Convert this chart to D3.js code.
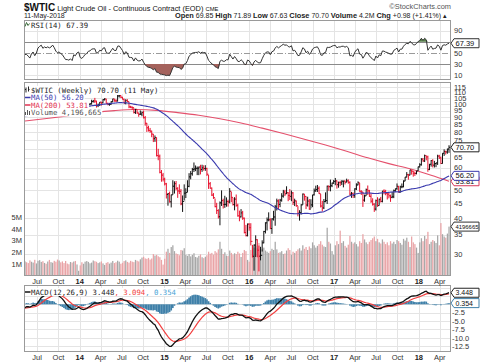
<!DOCTYPE html>
<html><head><meta charset="utf-8">
<script src="https://cdn.jsdelivr.net/npm/d3@7/dist/d3.min.js"></script>
<style>html,body{margin:0;padding:0;background:#fff;} svg{display:block;}</style>
</head><body>
<svg id="chart" width="480" height="363"></svg>
<script>
// ---------------- DATA (weekly, Fridays, from 10-May-2013 to 11-May-2018) ----------------
const firstWeek = "2013-05-10";
// 14 weekly closes before the first visible week (indicator warm-up only)
const priorClose = [97.77,95.72,95.86,93.13,90.68,91.95,93.45,93.71,97.23,92.70,91.29,88.01,93.00,95.61];
const close = [
// 2013
96.04,96.02,94.15,91.97,96.03,97.85,93.69,96.56,103.22,105.95,
108.05,104.70,106.94,106.03,107.46,106.42,107.65,110.53,108.21,104.67,
102.87,103.84,102.02,100.81,97.85,94.61,94.60,93.84,94.84,92.72,
97.65,96.60,99.32,100.32,
// 2014
93.96,92.72,94.37,96.64,97.49,99.88,100.30,102.20,102.59,102.58,
98.89,99.46,101.67,101.14,103.74,104.30,100.60,99.76,99.99,102.02,
104.35,102.71,102.66,106.91,107.26,105.74,104.06,100.83,103.13,102.09,
97.88,97.65,97.35,93.65,95.96,93.29,92.27,92.41,93.54,89.74,
85.82,82.75,81.01,80.54,78.65,75.82,76.51,66.15,65.84,57.81,
56.52,54.73,
// 2015
52.69,48.36,48.69,45.59,48.24,51.69,52.78,50.81,49.76,49.61,
44.84,45.72,48.87,49.14,51.64,55.74,57.15,59.15,59.39,59.69,
59.72,60.30,59.13,59.96,59.61,59.63,56.93,52.74,50.89,48.14,
47.12,43.87,42.50,40.45,45.22,46.05,44.63,44.68,45.70,45.54,
49.63,47.26,44.60,46.59,44.29,40.74,40.39,41.71,39.97,35.62,
34.73,38.10,37.04,
// 2016
33.16,29.42,32.19,33.62,30.89,29.44,29.64,32.78,35.92,38.50,
39.44,39.46,36.79,39.72,40.36,43.73,45.92,44.66,46.21,47.75,
49.33,48.62,49.07,47.98,47.64,48.99,45.41,45.95,44.19,41.60,
41.80,44.49,48.52,47.64,44.44,45.88,43.03,44.48,48.24,49.81,
50.35,50.85,48.70,44.07,43.41,45.69,46.06,51.68,51.50,51.90,
53.02,53.72,
// 2017
53.99,52.37,53.22,53.17,53.83,53.86,53.40,53.99,53.33,48.49,
48.78,47.97,50.60,52.24,53.18,49.62,49.33,46.22,47.84,50.33,
49.80,47.66,45.83,44.74,43.01,46.04,44.23,46.54,45.77,49.71,
49.58,48.82,48.51,47.87,47.29,47.48,49.89,50.66,51.67,49.29,
51.45,51.47,53.90,55.64,56.74,56.55,58.95,58.36,57.36,57.30,
58.47,60.42,
// 2018
61.44,64.30,63.37,66.14,65.45,59.20,61.68,63.55,61.25,62.04,
62.34,65.88,64.94,62.06,67.39,68.38,68.10,69.72,70.70];
const high = [
96.76,96.34,96.18,95.40,96.29,98.30,98.74,97.21,103.98,106.89,
109.32,108.36,107.35,107.05,108.13,106.97,112.24,110.76,110.70,108.78,
104.81,104.47,104.29,103.02,101.29,98.76,95.33,95.39,95.24,95.31,
97.88,98.88,99.42,100.75,
100.19,94.46,94.72,97.84,98.27,100.12,101.02,103.70,103.55,105.22,
102.91,100.56,101.80,102.01,104.18,104.99,104.53,101.38,101.09,102.43,
104.48,104.55,104.20,107.68,107.73,107.50,106.15,104.59,104.10,104.15,
102.12,98.75,98.23,97.18,96.37,95.75,93.33,95.10,94.35,94.92,
90.99,86.03,84.12,82.64,80.88,78.75,77.80,76.54,69.87,66.69,
58.90,57.54,
55.37,53.11,48.97,49.49,48.29,54.24,53.77,53.91,51.28,52.48,
50.51,47.99,52.48,50.85,54.24,57.42,58.41,59.90,62.58,61.10,
60.60,60.55,61.44,61.47,61.18,61.23,59.99,56.63,53.48,51.19,
48.93,46.79,45.23,42.96,45.74,50.00,46.76,47.87,47.25,46.40,
50.92,49.45,47.11,47.33,48.36,44.89,42.48,43.00,42.39,40.18,
37.87,38.30,38.39,
38.39,32.21,32.35,34.82,33.75,32.06,31.75,33.45,36.09,38.68,
40.20,41.90,39.97,39.95,42.42,44.49,46.78,46.50,46.70,48.88,
50.21,50.21,51.67,49.28,50.53,49.95,49.30,46.76,46.06,44.02,
42.62,44.74,48.75,48.60,47.70,47.50,46.63,46.55,48.24,50.74,
51.93,52.22,51.63,48.55,45.95,46.64,49.20,51.95,52.03,54.51,
53.20,54.36,
55.24,54.14,53.64,54.00,54.24,54.06,54.17,54.94,54.62,53.78,
49.38,49.14,50.85,52.94,53.76,53.07,50.06,49.44,48.32,50.74,
52.00,50.21,48.80,46.91,45.09,46.43,47.32,46.78,47.44,49.81,
50.43,50.22,49.25,48.96,48.32,49.42,50.33,50.75,52.86,51.81,
51.90,52.85,54.20,55.69,57.92,57.09,58.98,58.98,58.50,58.19,
58.53,60.51,
62.21,64.77,64.89,66.66,66.20,66.10,61.87,63.83,64.24,63.40,
62.43,66.60,66.55,65.64,67.45,69.56,68.79,69.97,71.89];
const low = [
94.45,93.12,93.25,91.48,91.10,94.84,92.83,93.08,96.57,102.22,
104.25,103.69,103.85,103.25,104.83,103.11,105.30,106.63,106.61,104.02,
101.84,101.83,100.90,100.08,96.10,94.12,93.13,92.56,92.51,91.77,
92.45,96.37,95.97,98.89,
93.70,91.24,91.30,94.13,95.03,96.11,99.06,99.78,101.37,100.95,
97.37,97.71,98.58,98.87,100.82,103.07,100.54,99.16,98.80,99.55,
101.62,102.09,101.98,102.18,105.54,105.09,103.95,100.59,99.95,101.71,
96.85,96.92,95.64,92.85,92.50,92.55,90.43,91.73,90.77,89.18,
84.14,80.01,80.27,79.44,76.70,73.75,73.87,65.69,63.72,57.34,
53.60,53.71,
52.03,46.83,44.20,45.30,43.58,48.27,48.73,50.01,47.08,48.54,
44.37,42.03,46.08,47.01,49.27,51.28,54.62,56.27,57.97,58.37,
56.53,56.51,56.86,58.02,58.61,58.52,56.17,50.60,50.66,47.77,
46.68,43.63,41.35,39.86,37.75,44.11,43.21,43.45,43.83,43.87,
45.05,45.45,44.26,42.58,43.83,40.45,38.99,40.20,39.44,35.35,
34.53,34.53,36.14,
32.10,29.13,26.19,29.25,29.18,26.05,28.47,30.56,32.65,35.35,
36.21,38.99,36.59,35.24,39.21,37.61,42.53,43.03,43.68,45.65,
47.16,47.75,48.56,45.83,46.26,45.83,44.44,44.07,43.82,40.57,
39.19,41.17,44.50,46.02,43.01,43.90,42.75,43.28,43.68,47.97,
49.40,49.36,48.58,43.57,42.20,43.01,45.43,44.82,49.83,49.61,
51.32,52.67,
52.11,50.71,51.09,51.77,52.18,51.22,52.44,53.35,52.75,48.16,
47.09,47.01,47.08,50.14,52.10,49.43,48.18,43.76,45.63,47.87,
48.18,47.46,45.20,44.22,42.05,42.50,43.80,44.22,45.36,45.40,
48.41,48.07,46.46,46.90,45.58,46.95,46.97,49.43,50.24,49.10,
49.09,50.88,51.25,53.85,55.50,54.48,56.45,56.75,55.82,56.14,
56.87,58.46,
60.10,61.03,62.96,62.80,63.67,58.07,58.84,60.54,60.15,60.10,
60.25,61.36,64.38,61.84,62.02,65.98,66.73,67.16,67.63];
// weekly volume, millions
const volume = [
1.22,1.15,1.08,1.31,1.19,1.12,1.36,1.05,1.28,1.33,
1.18,1.24,1.09,1.02,1.21,1.35,1.16,1.11,1.27,1.20,
1.38,1.30,1.14,1.22,1.08,1.26,1.04,0.98,1.17,1.12,
1.21,1.26,0.96,0.42,
0.88,1.15,1.02,1.20,1.25,1.18,1.06,1.12,1.30,1.24,
1.19,1.08,1.14,1.22,1.05,0.92,1.10,1.16,1.03,1.12,
1.26,1.08,1.15,1.28,1.20,1.02,1.10,1.25,1.31,1.18,
1.12,1.27,1.20,1.16,1.35,1.28,1.22,1.40,1.55,1.62,
1.48,1.44,1.52,1.38,1.47,1.85,1.72,1.78,1.66,1.58,
1.35,0.95,
1.45,2.05,2.30,1.95,2.45,2.60,2.10,1.90,1.85,1.75,
2.20,2.15,2.35,1.80,1.70,1.85,1.65,1.78,1.92,1.60,
1.55,1.70,1.82,1.58,1.50,1.62,1.75,2.05,1.88,1.95,
1.80,2.10,1.98,2.25,2.90,2.30,1.85,2.00,1.72,1.68,
2.15,1.95,1.80,1.92,1.85,2.05,1.90,1.60,1.95,2.20,
2.10,1.35,1.20,
2.20,2.65,2.40,2.55,2.35,2.80,2.30,2.25,2.40,2.15,
2.05,1.95,2.10,2.30,2.20,2.90,2.25,1.95,2.00,2.10,
1.85,1.90,2.15,2.35,2.20,1.80,2.05,1.95,2.10,2.25,
2.35,2.15,2.60,2.30,2.45,2.20,2.50,2.35,2.85,2.60,
2.40,2.55,2.70,2.95,2.65,2.50,2.45,4.10,2.90,2.75,
2.10,1.80,
2.60,2.95,2.70,3.85,2.80,2.95,2.55,2.40,2.65,3.40,
2.90,2.75,2.85,2.70,2.50,2.95,2.80,3.55,3.10,2.85,
2.70,2.90,3.05,3.20,3.35,2.95,3.15,2.85,2.75,3.10,
2.90,2.70,2.85,2.60,2.95,2.75,2.90,2.70,3.05,2.95,
2.80,2.65,3.15,3.00,3.25,2.90,2.45,3.35,2.85,2.70,
2.40,1.95,
2.85,3.20,2.95,3.40,3.15,3.75,2.70,2.90,3.05,2.95,
2.80,3.45,2.60,4.50,3.55,3.35,3.25,3.60,4.1967];
const ma50EarlyDates = ["2013-05-10","2013-06-28","2013-08-30","2013-10-25","2013-12-27"];
const ma50Early = [91.0,92.1,94.6,96.4,97.6];
// MA(200)
const ma200Dates = ["2013-05-10","2013-08-30","2013-11-29","2014-02-28","2014-05-30","2014-08-29","2014-11-28",
  "2015-02-27","2015-05-29","2015-08-28","2015-11-27","2016-02-26","2016-05-27","2016-08-26","2016-11-25",
  "2017-02-24","2017-05-26","2017-08-25","2017-11-24","2018-02-23","2018-05-11"];
const ma200 = [87.4,89.5,91.5,93.5,95.0,95.8,95.2,93.5,91.5,89.0,86.0,82.5,79.0,75.5,72.0,68.5,65.0,62.0,59.5,56.5,53.81];
const priceTicks = [30,35,40,45,50,55,60,65,70,75,80,85,90,95,100,105,110,115];
const volumeTicks = [1,2,3,4,5];
const rsiTicks = [10,30,50,70,90];
const macdTicks = [5,2.5,0,-2.5,-5,-7.5,-10,-12.5];
const macdTickLabels = ["5.0","2.5","0.0","-2.5","-5.0","-7.5","-10.0","-12.5"];
const lastValues = {rsi:67.39, close:70.70, ma50:56.20, ma200:53.81, volume:4.196665, macd:3.448, signal:3.094, hist:0.354};

// ---------------- SETUP ----------------
const svg = d3.select("#chart");
const SANS = "'Liberation Sans', Arial, sans-serif";
const MONO = "'DejaVu Sans Mono', monospace";
const parse = d3.timeParse("%Y-%m-%d");
const start = parse(firstWeek);
const N = Math.min(close.length, high.length, low.length, volume.length);
const dates = d3.range(N).map(i => d3.timeWeek.offset(start, i));
const open = d3.range(N).map(i => i === 0 ? priorClose[priorClose.length - 1] : close[i - 1]);
const up = d3.range(N).map(i => close[i] >= open[i]);

const L = 24, R = 451;
const P = {rsi: [20, 80], price: [82, 276], macd: [285, 352]};
const x = d3.scaleTime().domain([start, dates[N - 1]]).range([25, 449]);
const yR = d3.scaleLinear().domain([0, 100]).range([80.8, 25.05]);
const yP = d3.scaleLog().domain([25.1, 119.6]).range([276, 82]);
const yV = d3.scaleLinear().domain([0, 5]).range([275.7, 217.2]);
const yM = d3.scaleLinear().domain([0, 5]).range([304.3, 287.55]);

// ---------------- INDICATORS ----------------
const allClose = priorClose.concat(close.slice(0, N));
const W = priorClose.length;
function wilderRSI(arr, n) {
  const out = new Array(arr.length).fill(null);
  let g = 0, l = 0;
  for (let i = 1; i <= n; i++) { const d = arr[i] - arr[i - 1]; if (d > 0) g += d; else l -= d; }
  g /= n; l /= n; out[n] = 100 - 100 / (1 + g / l);
  for (let i = n + 1; i < arr.length; i++) {
    const d = arr[i] - arr[i - 1];
    g = (g * (n - 1) + Math.max(d, 0)) / n;
    l = (l * (n - 1) + Math.max(-d, 0)) / n;
    out[i] = l === 0 ? 100 : 100 - 100 / (1 + g / l);
  }
  return out;
}
function ema(arr, n) { const k = 2 / (n + 1); let e = arr[0]; return arr.map((v, i) => (e = i === 0 ? v : v * k + e * (1 - k))); }
const rsiAll = wilderRSI(allClose, 14);
const rsi = rsiAll.slice(W);
const e12 = ema(allClose, 12), e26 = ema(allClose, 26);
const macdAll = e12.map((v, i) => v - e26[i]);
const sigAll = ema(macdAll, 9);
const macd = macdAll.slice(W), signal = sigAll.slice(W);
const hist = macd.map((v, i) => v - signal[i]);
const ma50Pts = ma50EarlyDates.map((d, i) => ({d: parse(d), v: ma50Early[i]}));
for (let i = 0; i < N; i++) {
  const j = i + W;
  if (j >= 49) ma50Pts.push({d: dates[i], v: d3.mean(allClose.slice(j - 49, j + 1))});
}
const ma200Pts = ma200Dates.map((d, i) => ({d: parse(d), v: ma200[i]}));

// ---------------- CLIPS ----------------
const defs = svg.append("defs");
Object.entries(P).forEach(([k, [t, b]]) => {
  defs.append("clipPath").attr("id", "clip-" + k).append("rect").attr("x", L).attr("y", t).attr("width", R - L).attr("height", b - t);
});

// ---------------- GRID ----------------
const monthTicks = d3.timeMonth.range(new Date(2013, 6, 1), new Date(2018, 4, 2), 3);
const grid = svg.append("g").attr("stroke", "#e4e4e4").attr("stroke-width", 1).attr("shape-rendering", "crispEdges");
Object.values(P).forEach(([t, b]) => {
  monthTicks.forEach(m => grid.append("line").attr("x1", Math.round(x(m)) + .5).attr("x2", Math.round(x(m)) + .5).attr("y1", t).attr("y2", b));
});
priceTicks.forEach(v => grid.append("line").attr("x1", L).attr("x2", R).attr("y1", Math.round(yP(v)) + .5).attr("y2", Math.round(yP(v)) + .5));
[10, 90].forEach(v => grid.append("line").attr("x1", L).attr("x2", R).attr("y1", Math.round(yR(v)) + .5).attr("y2", Math.round(yR(v)) + .5));
macdTicks.forEach(v => grid.append("line").attr("x1", L).attr("x2", R).attr("y1", Math.round(yM(v)) + .5).attr("y2", Math.round(yM(v)) + .5));

// ---------------- RSI PANEL ----------------
const gR = svg.append("g").attr("clip-path", "url(#clip-rsi)");
[30, 70].forEach(v => gR.append("line").attr("x1", L).attr("x2", R).attr("y1", Math.round(yR(v)) + .5).attr("y2", Math.round(yR(v)) + .5)
  .attr("stroke", "#8a8a8a").attr("shape-rendering", "crispEdges"));
gR.append("line").attr("x1", L).attr("x2", R).attr("y1", Math.round(yR(50)) + .5).attr("y2", Math.round(yR(50)) + .5)
  .attr("stroke", "#9a9a9a").attr("stroke-dasharray", "6,2,1,2").attr("shape-rendering", "crispEdges");
const rsiPts = dates.map((d, i) => ({d, v: rsi[i]}));
gR.append("path").datum(rsiPts).attr("fill", "#56804a")
  .attr("d", d3.area().x(p => x(p.d)).y0(yR(70)).y1(p => yR(Math.max(p.v, 70))));
gR.append("path").datum(rsiPts).attr("fill", "#a4625c")
  .attr("d", d3.area().x(p => x(p.d)).y0(yR(30)).y1(p => yR(Math.min(p.v, 30))));
gR.append("path").datum(rsiPts).attr("fill", "none").attr("stroke", "#333").attr("stroke-width", 1)
  .attr("d", d3.line().x(p => x(p.d)).y(p => yR(p.v)));

// ---------------- PRICE PANEL ----------------
const gP = svg.append("g").attr("clip-path", "url(#clip-price)");
gP.append("g").selectAll("rect").data(d3.range(N)).join("rect")
  .attr("x", i => x(dates[i]) - 0.6).attr("width", 1.25)
  .attr("y", i => yV(volume[i])).attr("height", i => yV(0) - yV(volume[i]))
  .attr("fill", i => up[i] ? "#a7a7a7" : "#e9a3a6");
gP.append("path").datum(ma200Pts).attr("fill", "none").attr("stroke", "#e4506c").attr("stroke-width", 1.1)
  .attr("d", d3.line().curve(d3.curveMonotoneX).x(p => x(p.d)).y(p => yP(p.v)));
gP.append("g").selectAll("path").data(d3.range(N)).join("path")
  .attr("fill", "none").attr("stroke-width", 1)
  .attr("stroke", i => up[i] ? "#111" : "#e8102c")
  .attr("d", i => {
    const cx = x(dates[i]);
    return `M${cx},${yP(high[i])}V${yP(low[i])}M${cx - 1},${yP(open[i])}H${cx}M${cx},${yP(close[i])}H${cx + 1}`;
  });
gP.append("path").datum(ma50Pts).attr("fill", "none").attr("stroke", "#3a3aae").attr("stroke-width", 1.1)
  .attr("d", d3.line().curve(d3.curveMonotoneX).x(p => x(p.d)).y(p => yP(p.v)));

// ---------------- MACD PANEL ----------------
const gM = svg.append("g").attr("clip-path", "url(#clip-macd)");
gM.append("g").selectAll("rect").data(d3.range(N)).join("rect")
  .attr("x", i => x(dates[i]) - 0.85).attr("width", 1.7)
  .attr("y", i => Math.min(yM(hist[i]), yM(0))).attr("height", i => Math.abs(yM(hist[i]) - yM(0)))
  .attr("fill", "#3f80a9");
gM.append("path").datum(signal).attr("fill", "none").attr("stroke", "#f24040").attr("stroke-width", 1.2)
  .attr("d", d3.line().x((v, i) => x(dates[i])).y(v => yM(v)));
gM.append("path").datum(macd).attr("fill", "none").attr("stroke", "#111").attr("stroke-width", 1.3)
  .attr("d", d3.line().x((v, i) => x(dates[i])).y(v => yM(v)));

// ---------------- PANEL BORDERS ----------------
Object.values(P).forEach(([t, b]) => svg.append("rect").attr("x", L + .5).attr("y", t + .5).attr("width", R - L - 1).attr("height", b - t - 1)
  .attr("fill", "none").attr("stroke", "#9a9a9a").attr("shape-rendering", "crispEdges"));

// ---------------- AXES LABELS ----------------
const txt = (g, xx, yy, s, opt = {}) => g.append("text").attr("x", xx).attr("y", yy).text(s)
  .attr("font-family", opt.font || SANS).attr("font-size", opt.size || 7.5).attr("fill", opt.fill || "#333")
  .attr("font-weight", opt.bold ? "bold" : null).attr("text-anchor", opt.anchor || "start");
// y positions of the value tags: tick labels under them are hidden, as in the original
const tagYs = {
  rsi: [yR(lastValues.rsi)],
  price: [yP(lastValues.close), yP(lastValues.ma50), yP(lastValues.ma200), yV(lastValues.volume)],
  macd: [yM(lastValues.macd), yM(lastValues.hist)]
};
const free = (yy, list) => list.every(t => Math.abs(t - yy) > 6.5);
const ax = svg.append("g");
priceTicks.forEach(v => { if (free(yP(v), tagYs.price)) txt(ax, 454, yP(v) + 2.7, String(v)); });
rsiTicks.forEach(v => { if (free(yR(v), tagYs.rsi)) txt(ax, 454, yR(v) + 2.7, String(v)); });
macdTicks.forEach((v, i) => { if (free(yM(v), tagYs.macd)) txt(ax, 452, yM(v) + 2.7, macdTickLabels[i]); });
volumeTicks.forEach(v => txt(ax, 22, yV(v) + 2.7, v + "M", {anchor: "end"}));
monthTicks.forEach(m => {
  const isYear = m.getMonth() === 0;
  const s = isYear ? d3.timeFormat("%y")(m) : d3.timeFormat("%b")(m);
  txt(ax, x(m), 284, s, {anchor: "middle", bold: isYear, fill: isYear ? "#222" : "#333"});
  txt(ax, x(m), 360, s, {anchor: "middle", bold: isYear, fill: isYear ? "#222" : "#333"});
});

// ---------------- VALUE TAGS ----------------
function tag(yy, s, stroke, size) {
  const g = svg.append("g");
  const h = 9, x0 = 451, bx = 454, w = 479 - bx;
  g.append("path").attr("d", `M${x0},${yy}L${bx},${yy - h / 2}H${bx + w}V${yy + h / 2}H${bx}Z`)
    .attr("fill", "#fff").attr("stroke", stroke).attr("stroke-width", 1);
  txt(g, bx + 1.5, yy + 2.6, s, {fill: "#111", size: size || 7.5});
}
tag(yR(lastValues.rsi), lastValues.rsi.toFixed(2), "#333");
tag(yP(lastValues.ma200), lastValues.ma200.toFixed(2), "#d83a5a");
tag(yP(lastValues.ma50), lastValues.ma50.toFixed(2), "#3a3aae");
tag(yP(lastValues.close), lastValues.close.toFixed(2), "#222");
tag(yV(lastValues.volume), String(Math.round(lastValues.volume * 1e6)), "#333", 5.9);
tag(yM(lastValues.macd), lastValues.macd.toFixed(3), "#222", 7);
tag(yM(lastValues.hist), lastValues.hist.toFixed(3), "#3f80a9", 7);

// ---------------- LEGENDS ----------------
function legendLine(yy, parts, icon) {
  const g = svg.append("g");
  const bg = g.append("rect").attr("fill", "#fff");
  const t = g.append("text").attr("x", 31).attr("y", yy).attr("font-family", MONO).attr("font-size", 7.3);
  parts.forEach(([s, c]) => t.append("tspan").text(s).attr("fill", c));
  const bb = t.node().getBBox();
  bg.attr("x", L + 1).attr("y", yy - 6.5).attr("width", bb.x + bb.width - L).attr("height", 8);
  icon(g, yy);
}
const barIcon = (g, yy) => g.append("path").attr("d", `M26,${yy - 5}V${yy}M28.5,${yy - 6}V${yy - 1}M25,${yy - 3}H26M28.5,${yy - 3}H29.5`).attr("stroke", "#222").attr("fill", "none");
const dashIcon = c => (g, yy) => g.append("line").attr("x1", 25).attr("x2", 30.5).attr("y1", yy - 2.5).attr("y2", yy - 2.5).attr("stroke", c).attr("stroke-width", 1.5);
const volIcon = (g, yy) => g.append("path").attr("d", `M25.5,${yy}V${yy - 3}M27.5,${yy}V${yy - 5}M29.5,${yy}V${yy - 4}`).attr("stroke", "#555").attr("fill", "none");
legendLine(92.5, [["$WTIC (Weekly) 70.70 (11 May)", "#222"]], barIcon);
legendLine(100, [["MA(50) 56.20", "#3a3aae"]], dashIcon("#3a3aae"));
legendLine(107.5, [["MA(200) 53.81", "#e03050"]], dashIcon("#e03050"));
legendLine(115, [["Volume 4,196,665", "#555"]], volIcon);
legendLine(27.5, [["RSI(14) 67.39", "#222"]], (g, yy) => g.append("path").attr("d", `M25,${yy - 1}L26.5,${yy - 5}L28,${yy - 2}L29.5,${yy - 4}`).attr("stroke", "#3a6a3a").attr("fill", "none"));
legendLine(294.5, [["MACD(12,26,9) 3.448", "#222"], [", 3.094", "#f24040"], [", 0.354", "#4aa3d6"]], dashIcon("#111"));

// ---------------- HEADER ----------------
const h1 = svg.append("text").attr("x", 24).attr("y", 10.5).attr("font-family", SANS).attr("fill", "#111");
h1.append("tspan").text("$WTIC").attr("font-weight", "bold").attr("font-size", 10);
h1.append("tspan").text(" Light Crude Oil - Continuous Contract (EOD) ").attr("font-size", 7.4);
h1.append("tspan").text("CME").attr("font-size", 5.8);
txt(svg, 451, 8.5, "\u00A9StockCharts.com", {anchor: "end", fill: "#555", size: 7.4});
txt(svg, 24, 18, "11-May-2018", {size: 7, fill: "#222"});
const h2 = svg.append("text").attr("x", 447).attr("y", 18).attr("text-anchor", "end").attr("font-family", SANS).attr("font-size", 7.2).attr("fill", "#222");
[["Open", 1], [" 69.85 ", 0], ["High", 1], [" 71.89 ", 0], ["Low", 1], [" 67.63 ", 0], ["Close", 1], [" 70.70 ", 0],
 ["Volume", 1], [" 4.2M ", 0], ["Chg", 1], [" +0.98 (+1.41%) \u25B4", 0]].forEach(([s, b]) =>
  h2.append("tspan").text(s).attr("font-weight", b ? "bold" : "normal").attr("font-size", b ? 7.4 : 7));
</script>
</body></html>
